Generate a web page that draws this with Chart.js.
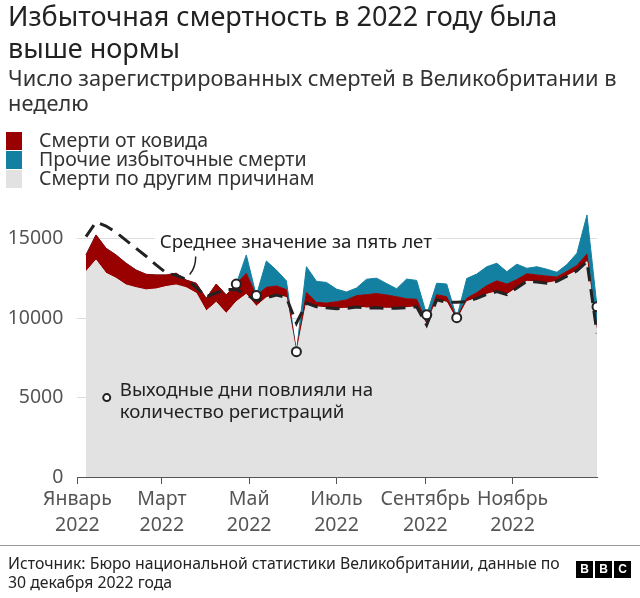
<!DOCTYPE html>
<html>
<head>
<meta charset="utf-8">
<script src="https://cdn.jsdelivr.net/npm/chart.js@4/dist/chart.umd.min.js"></script>
<style>
  body { margin: 0; background: #fff; font-family: 'Noto Sans', 'Open Sans', sans-serif; color: #222; }
  #page { position: relative; width: 640px; height: 598px; overflow: hidden; }
  #chart { position: absolute; left: 0; top: 0; }
  .txt { position: absolute; white-space: nowrap; }
  #title { left: 8px; top: 0px; font-size: 27px; line-height: 32px; color: #222; }
  #subtitle { left: 8px; top: 65px; font-size: 21.8px; line-height: 25px; color: #333; }
  .legend-row { position: absolute; left: 6px; height: 18px; }
  .legend-row span.sw { position: absolute; left: 0; top: 0; width: 16px; height: 18px; }
  .legend-row span.lb { position: absolute; left: 33px; top: -3px; font-size: 19.5px; line-height: 22px; color: #333; white-space: nowrap; }
  #rule { position: absolute; left: 0; top: 545px; width: 640px; height: 1px; background: #999; }
  #source { left: 8px; top: 554px; font-size: 15.8px; line-height: 19px; color: #222; }
  #bbc { position: absolute; left: 576px; top: 556px; }
  #bbc span { display: inline-block; width: 17px; height: 17px; margin-right: 2px; background: #000; color: #fff;
    font: bold 12px/17px 'Liberation Sans', Arial, sans-serif; text-align: center; }
</style>
</head>
<body>
<div id="page">
  <canvas id="chart" width="640" height="598"></canvas>
  <div id="title" class="txt">Избыточная смертность в 2022 году была<br>выше нормы</div>
  <div id="subtitle" class="txt">Число зарегистрированных смертей в Великобритании в<br>неделю</div>
  <div class="legend-row" style="top:132px"><span class="sw" style="background:#990000"></span><span class="lb">Смерти от ковида</span></div>
  <div class="legend-row" style="top:151px"><span class="sw" style="background:#1380a1"></span><span class="lb">Прочие избыточные смерти</span></div>
  <div class="legend-row" style="top:170px"><span class="sw" style="background:#e2e2e2"></span><span class="lb">Смерти по другим причинам</span></div>
  <div id="rule"></div>
  <div id="source" class="txt">Источник: Бюро национальной статистики Великобритании, данные по<br>30 декабря 2022 года</div>
  <div id="bbc"><span>B</span><span>B</span><span>C</span></div>
</div>
<script>
// weekly registered deaths, UK, 2022 (weeks ending 7 Jan ... 30 Dec)
const firstWeekEnding = 6; // days after 1 Jan
const otherCauses = [
  12930, 13660, 12830, 12510, 12090, 11920, 11780, 11840, 11990, 12090,
  11920, 11570, 10450, 11000, 10300, 11040, 11500, 10750, 11290, 11460,
  11300, 7750, 10950, 10720, 10650, 10600, 10620, 10700, 10640, 10660,
  10620, 10620, 10660, 10720, 9570, 11150, 11000, 9850, 11040, 11250,
  11500, 11670, 11480, 11900, 12320, 12280, 12200, 12320, 12650, 12980,
  13560, 9050
];
const covidDeaths = [
  1050, 1580, 1570, 1470, 1370, 1110, 980, 880, 730, 740,
  480, 630, 800, 1150, 1160, 1110, 1330, 670, 650, 570,
  500, 140, 670, 280, 300, 440, 530, 720, 840, 890,
  840, 730, 560, 470, 180, 330, 350, 180, 210, 360,
  550, 680, 670, 530, 480, 440, 450, 270, 300, 340,
  480, 150
];
const otherExcess = [
  0, 0, 0, 0, 0, 0, 0, 0, 0, 0,
  0, 0, 0, 0, 0, 0, 1150, 0, 1660, 1000,
  550, 0, 1620, 1320, 1300, 790, 500, 480, 970, 970,
  720, 500, 1240, 1190, 470, 720, 800, 0, 1250, 1170,
  1190, 1110, 780, 970, 340, 520, 430, 300, 430, 770,
  2460, 1520
];
const fiveYearAvg = [
  15130, 16050, 15800, 15400, 14900, 14400, 13900, 13350, 12850, 12700,
  12450, 11950, 11350, 11600, 11800, 11800, 11500, 11100, 11290, 11460,
  11300, 9680, 10950, 10720, 10650, 10600, 10620, 10700, 10640, 10660,
  10620, 10620, 10660, 10720, 9570, 11150, 11000, 11000, 11040, 11250,
  11500, 11670, 11480, 11900, 12320, 12280, 12200, 12320, 12650, 12980,
  13560, 9050
];
// weeks containing bank holidays (index into the weekly arrays)
const holidayWeeks = [15, 17, 21, 34, 37, 51];

const monthDays = [0, 59, 120, 181, 243, 304];
const monthLabels = [
  ['Январь', '2022'], ['Март', '2022'], ['Май', '2022'],
  ['Июль', '2022'], ['Сентябрь', '2022'], ['Ноябрь', '2022']
];
const yTicks = [0, 5000, 10000, 15000];

const weekDays = otherCauses.map((_, i) => firstWeekEnding + 7 * i);
const pts = arr => arr.map((v, i) => ({ x: weekDays[i], y: v }));
const totals = otherCauses.map((v, i) => v + covidDeaths[i] + otherExcess[i]);

const FONT = "'Noto Sans', 'Open Sans', sans-serif";

const notes = {
  id: 'notes',
  afterDatasetsDraw(chart) {
    const c = chart.ctx, xs = chart.scales.x, ys = chart.scales.y;
    c.save();
    // five year average label
    c.font = '18.7px ' + FONT;
    const t1 = 'Среднее значение за пять лет';
    const tx = xs.getPixelForValue(57.5), ty = ys.getPixelForValue(14450);
    const w = c.measureText(t1).width;
    c.fillStyle = '#fff';
    c.fillRect(tx - 5, ty - 18, w + 10, 24);
    c.fillStyle = '#222';
    c.fillText(t1, tx, ty);
    c.strokeStyle = '#222';
    c.lineWidth = 1.5;
    c.beginPath();
    c.moveTo(tx + 36, ty + 9);
    c.quadraticCurveTo(tx + 36, ty + 20, tx + 30, ty + 27);
    c.stroke();
    // bank holiday note
    const cx = xs.getPixelForValue(20.5), cy = ys.getPixelForValue(5000);
    c.beginPath();
    c.arc(cx, cy, 3.5, 0, Math.PI * 2);
    c.fillStyle = '#fff';
    c.fill();
    c.lineWidth = 2;
    c.stroke();
    c.fillStyle = '#222';
    c.fillText('Выходные дни повлияли на', cx + 13, cy - 2);
    c.fillText('количество регистраций', cx + 13, cy + 20);
    c.restore();
  }
};

new Chart(document.getElementById('chart'), {
  type: 'line',
  data: {
    datasets: [
      { label: 'Смерти по другим причинам', data: pts(otherCauses), stack: 'deaths', fill: 'origin',
        backgroundColor: '#e2e2e2', borderColor: '#e2e2e2', borderWidth: 1, order: 2 },
      { label: 'Смерти от ковида', data: pts(covidDeaths), stack: 'deaths', fill: '-1',
        backgroundColor: '#990000', borderColor: '#990000', borderWidth: 1, order: 3 },
      { label: 'Прочие избыточные смерти', data: pts(otherExcess), stack: 'deaths', fill: '-1',
        backgroundColor: '#1380a1', borderColor: '#1380a1', borderWidth: 1, order: 4 },
      { label: 'Среднее значение за пять лет', data: pts(fiveYearAvg), stack: 'avg', fill: false,
        borderColor: '#222', borderWidth: 3, borderDash: [14, 8], order: 1 },
      { label: 'holidays', data: holidayWeeks.map(i => ({ x: weekDays[i], y: totals[i] })), stack: 'marks',
        showLine: false, pointRadius: 4.5, pointBackgroundColor: '#fff', pointBorderColor: '#222',
        pointBorderWidth: 2, order: 0 }
    ]
  },
  options: {
    responsive: false,
    animation: false,
    elements: { line: { tension: 0 }, point: { radius: 0 } },
    layout: { padding: { top: 207, right: 43, left: 0, bottom: 0 } },
    plugins: { legend: { display: false }, tooltip: { enabled: false } },
    scales: {
      x: {
        type: 'linear', min: 0, max: 363,
        afterBuildTicks: s => { s.ticks = monthDays.map(v => ({ value: v })); },
        afterFit: s => { s.height = 121; },
        ticks: {
          autoSkip: false, maxRotation: 0, padding: 3, color: '#555',
          font: { family: FONT, size: 19.5, lineHeight: 1.3 },
          callback: (v, i) => monthLabels[i]
        },
        grid: { drawOnChartArea: false, drawTicks: true, tickLength: 7, color: '#555' },
        border: { display: true, color: '#555' }
      },
      y: {
        stacked: true, min: 0, max: 17000,
        afterBuildTicks: s => { s.ticks = yTicks.map(v => ({ value: v })); },
        afterFit: s => { s.width = 77.4; },
        ticks: { padding: 14, color: '#555', font: { family: FONT, size: 19.5 }, callback: v => String(v) },
        grid: { color: '#dcdcdc', drawTicks: false },
        border: { display: false }
      }
    }
  },
  plugins: [notes]
});
</script>
</body>
</html>
